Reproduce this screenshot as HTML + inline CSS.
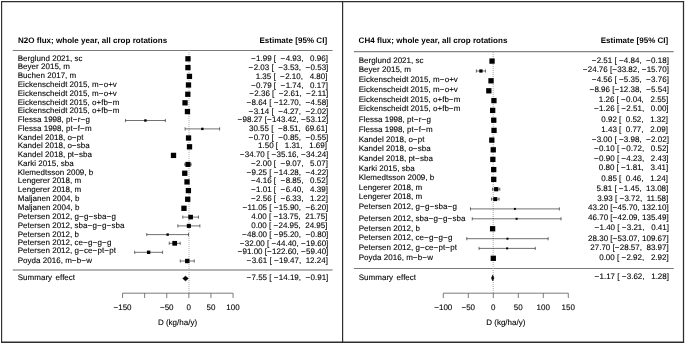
<!DOCTYPE html>
<html><head><meta charset="utf-8"><title>Forest plots</title>
<style>
html,body{margin:0;padding:0;background:#fff;}
svg{display:block;}
text{font-family:"Liberation Sans",Arial,Helvetica,sans-serif;font-size:8px;fill:#000;white-space:pre;text-rendering:geometricPrecision;stroke:#000;stroke-width:0.1px;}
.b{font-weight:bold;stroke:none;letter-spacing:0.03px;}
.l{letter-spacing:0.02px;}
.n{letter-spacing:0.3px;}
.n5{letter-spacing:0.4px;}
.e{text-anchor:end;}
.m{text-anchor:middle;}
.hr{stroke:#333;stroke-width:0.8;}
.ref{stroke-dasharray:1 1;}
.ci{stroke:#111;stroke-width:0.6;fill:none;}
.ax{stroke:#5a5a5a;stroke-width:0.8;fill:none;}
.bd{stroke:#2e2e2e;fill:none;}
</style></head><body>
<svg width="685" height="344" viewBox="0 0 685 344" xml:space="preserve">
<rect x="0" y="0" width="685" height="344" fill="#fff"/>
<path class="bd" stroke-width="1.15" d="M1.6 1V342.9"/>
<path class="bd" stroke-width="1.15" d="M1 1.58H684.1"/>
<path class="bd" stroke-width="1.25" d="M683.5 1V342.9"/>
<path class="bd" stroke-width="1.5" d="M1 342.25H684.1"/>
<path class="bd" stroke-width="1.2" d="M342.6 1.5V342"/>
<text class="b" x="17.9" y="42.9">N2O flux; whole year, all crop rotations</text>
<text class="b e" x="327.1" y="42.9">Estimate [95% CI]</text>
<line stroke="#7a7a7a" stroke-width="1" x1="12.75" x2="332.6" y1="50.5" y2="50.5"/>
<line stroke="#b4b4b4" stroke-width="2" x1="12.75" x2="332.6" y1="270.0" y2="270.0"/>
<line class="ref" stroke="#adadad" stroke-width="1.0" x1="189.0" x2="189.0" y1="50.0" y2="293.2"/>
<text class="l" x="17.75" y="60.5">Berglund 2021, sc</text>
<text class="e" x="327.90" y="60.75"> <tspan class="n5">−</tspan>1.99 [  <tspan class="n5">−</tspan>4.93,   0.96]</text>
<rect x="185.32" y="56.15" width="5.3" height="5.3"/>
<text class="l" x="17.75" y="69.4">Beyer 2015, m</text>
<text class="e" x="328.35" y="69.75"> <tspan class="n5">−</tspan>2.03 [  <tspan class="n5">−</tspan>3.53,  <tspan class="n5">−</tspan>0.53]</text>
<rect x="185.30" y="64.95" width="5.3" height="5.3"/>
<text class="l" x="17.75" y="78.4">Buchen 2017, m</text>
<text class="e" x="327.45" y="78.5">  1.35 [  <tspan class="n5">−</tspan>2.10,   4.80]</text>
<rect x="186.80" y="73.75" width="5.3" height="5.3"/>
<text class="l" x="17.75" y="87.1">Eickenscheidt 2015, m<tspan class="n">−</tspan>o+v</text>
<text class="e" x="327.90" y="87.6"> <tspan class="n5">−</tspan>0.79 [  <tspan class="n5">−</tspan>1.74,   0.17]</text>
<rect x="185.85" y="82.35" width="5.3" height="5.3"/>
<text class="l" x="17.75" y="95.6">Eickenscheidt 2015, m<tspan class="n">−</tspan>o+v</text>
<text class="e" x="328.35" y="95.6"> <tspan class="n5">−</tspan>2.36 [  <tspan class="n5">−</tspan>2.61,  <tspan class="n5">−</tspan>2.11]</text>
<rect x="185.16" y="91.60" width="5.3" height="5.3"/>
<text class="l" x="17.75" y="104.9">Eickenscheidt 2015, o+fb<tspan class="n">−</tspan>m</text>
<text class="e" x="328.35" y="104.9"> <tspan class="n5">−</tspan>8.64 [ <tspan class="n5">−</tspan>12.70,  <tspan class="n5">−</tspan>4.58]</text>
<rect x="182.38" y="100.15" width="5.3" height="5.3"/>
<text class="l" x="17.75" y="113.4">Eickenscheidt 2015, o+fb<tspan class="n">−</tspan>m</text>
<text class="e" x="328.35" y="113.6"> <tspan class="n5">−</tspan>3.14 [  <tspan class="n5">−</tspan>4.27,  <tspan class="n5">−</tspan>2.02]</text>
<rect x="184.81" y="108.95" width="5.3" height="5.3"/>
<text class="l" x="17.75" y="121.5">Flessa 1998, pt<tspan class="n">−</tspan>r<tspan class="n">−</tspan>g</text>
<text class="e" x="328.35" y="122.4"><tspan class="n5">−</tspan>98.27 [<tspan class="n5">−</tspan>143.42, <tspan class="n5">−</tspan>53.12]</text>
<path class="ci" d="M125.46 120.5H165.37M125.46 118.9v3.2M165.37 118.9v3.2"/>
<rect x="144.21" y="119.30" width="2.4" height="2.4"/>
<text class="l" x="17.75" y="130.65">Flessa 1998, pt<tspan class="n">−</tspan>f<tspan class="n">−</tspan>m</text>
<text class="e" x="327.45" y="131.1"> 30.55 [  <tspan class="n5">−</tspan>8.51,  69.61]</text>
<path class="ci" d="M185.09 128.9H219.62M185.09 127.30000000000001v3.2M219.62 127.30000000000001v3.2"/>
<rect x="201.15" y="127.70" width="2.4" height="2.4"/>
<text class="l" x="17.75" y="139.5">Kandel 2018, o<tspan class="n">−</tspan>pt</text>
<text class="e" x="328.35" y="139.5"> <tspan class="n5">−</tspan>0.70 [  <tspan class="n5">−</tspan>0.85,  <tspan class="n5">−</tspan>0.55]</text>
<rect x="185.89" y="135.35" width="5.3" height="5.3"/>
<text class="l" x="17.75" y="148.0">Kandel 2018, o<tspan class="n">−</tspan>sba</text>
<text class="e" x="327.00" y="148.0">  1.50 [   1.31,   1.69]</text>
<rect x="186.86" y="144.15" width="5.3" height="5.3"/>
<text class="l" x="17.75" y="156.75">Kandel 2018, pt<tspan class="n">−</tspan>sba</text>
<text class="e" x="328.35" y="156.75"><tspan class="n5">−</tspan>34.70 [ <tspan class="n5">−</tspan>35.16, <tspan class="n5">−</tspan>34.24]</text>
<rect x="170.86" y="152.75" width="5.3" height="5.3"/>
<text class="l" x="17.75" y="165.75">Karki 2015, sba</text>
<text class="e" x="327.90" y="165.75"> <tspan class="n5">−</tspan>2.00 [  <tspan class="n5">−</tspan>9.07,   5.07]</text>
<path class="ci" d="M184.84 164.4H191.09M184.84 162.8v3.2M191.09 162.8v3.2"/>
<rect x="185.42" y="161.85" width="5.1" height="5.1"/>
<text class="l" x="17.75" y="175.3">Klemedtsson 2009, b</text>
<text class="e" x="328.35" y="175.3"> <tspan class="n5">−</tspan>9.25 [ <tspan class="n5">−</tspan>14.28,  <tspan class="n5">−</tspan>4.22]</text>
<rect x="182.11" y="170.60" width="5.3" height="5.3"/>
<text class="l" x="17.75" y="183.1">Lengerer 2018, m</text>
<text class="e" x="327.90" y="183.1"> <tspan class="n5">−</tspan>4.16 [  <tspan class="n5">−</tspan>8.85,   0.52]</text>
<rect x="184.36" y="179.25" width="5.3" height="5.3"/>
<text class="l" x="17.75" y="192.25">Lengerer 2018, m</text>
<text class="e" x="327.90" y="192.25"> <tspan class="n5">−</tspan>1.01 [  <tspan class="n5">−</tspan>6.40,   4.39]</text>
<rect x="185.75" y="187.95" width="5.3" height="5.3"/>
<text class="l" x="17.75" y="201.2">Maljanen 2004, b</text>
<text class="e" x="327.90" y="201.2"> <tspan class="n5">−</tspan>2.56 [  <tspan class="n5">−</tspan>6.33,   1.22]</text>
<rect x="185.07" y="196.60" width="5.3" height="5.3"/>
<text class="l" x="17.75" y="209.7">Maljanen 2004, b</text>
<text class="e" x="328.35" y="210.0"><tspan class="n5">−</tspan>11.05 [ <tspan class="n5">−</tspan>15.90,  <tspan class="n5">−</tspan>6.20]</text>
<rect x="181.32" y="205.65" width="5.3" height="5.3"/>
<text class="l" x="17.75" y="218.5">Petersen 2012, g<tspan class="n">−</tspan>g<tspan class="n">−</tspan>sba<tspan class="n">−</tspan>g</text>
<text class="e" x="327.45" y="219.0">  4.00 [ <tspan class="n5">−</tspan>13.75,  21.75]</text>
<path class="ci" d="M182.77 217.1H198.46M182.77 215.5v3.2M198.46 215.5v3.2"/>
<rect x="188.32" y="214.80" width="4.6" height="4.6"/>
<text class="l" x="17.75" y="227.5">Petersen 2012, sba<tspan class="n">−</tspan>g<tspan class="n">−</tspan>g<tspan class="n">−</tspan>sba</text>
<text class="e" x="327.45" y="227.5">  0.00 [ <tspan class="n5">−</tspan>24.95,  24.95]</text>
<path class="ci" d="M177.82 225.9H199.88M177.82 224.3v3.2M199.88 224.3v3.2"/>
<rect x="186.80" y="223.85" width="4.1" height="4.1"/>
<text class="l" x="17.75" y="236.5">Petersen 2012, b</text>
<text class="e" x="328.35" y="236.5"><tspan class="n5">−</tspan>48.00 [ <tspan class="n5">−</tspan>95.20,  <tspan class="n5">−</tspan>0.80]</text>
<path class="ci" d="M146.77 234.6H188.50M146.77 233.0v3.2M188.50 233.0v3.2"/>
<rect x="166.43" y="233.40" width="2.4" height="2.4"/>
<text class="l" x="17.75" y="244.6">Petersen 2012, ce<tspan class="n">−</tspan>g<tspan class="n">−</tspan>g<tspan class="n">−</tspan>g</text>
<text class="e" x="328.35" y="245.6"><tspan class="n5">−</tspan>32.00 [ <tspan class="n5">−</tspan>44.40, <tspan class="n5">−</tspan>19.60]</text>
<path class="ci" d="M169.23 243.3H180.19M169.23 241.70000000000002v3.2M180.19 241.70000000000002v3.2"/>
<rect x="172.33" y="240.93" width="4.75" height="4.75"/>
<text class="l" x="17.75" y="252.9">Petersen 2012, g<tspan class="n">−</tspan>ce<tspan class="n">−</tspan>pt<tspan class="n">−</tspan>pt</text>
<text class="e" x="328.35" y="254.0"><tspan class="n5">−</tspan>91.00 [<tspan class="n5">−</tspan>122.60, <tspan class="n5">−</tspan>59.40]</text>
<path class="ci" d="M134.66 252.3H162.60M134.66 250.70000000000002v3.2M162.60 250.70000000000002v3.2"/>
<rect x="146.93" y="250.60" width="3.4" height="3.4"/>
<text class="l" x="17.75" y="263.0">Poyda 2016, m<tspan class="n">−</tspan>b<tspan class="n">−</tspan>w</text>
<text class="e" x="327.90" y="263.25"> <tspan class="n5">−</tspan>3.61 [ <tspan class="n5">−</tspan>19.47,  12.24]</text>
<path class="ci" d="M180.24 261.0H194.26M180.24 259.4v3.2M194.26 259.4v3.2"/>
<rect x="185.05" y="258.80" width="4.4" height="4.4"/>
<text class="l" x="17.75" y="279.75" word-spacing="1.2">Summary effect</text>
<text class="e" x="328.35" y="279.9"> <tspan class="n5">−</tspan>7.55 [ <tspan class="n5">−</tspan>14.19,  <tspan class="n5">−</tspan>0.91]</text>
<polygon stroke="#000" stroke-width="0.3" points="182.58,278.5 185.51,275.9 188.45,278.5 185.51,281.1"/>
<path class="ax" d="M122.55 293.2H233.05M122.55 293.2v4.8M144.65 293.2v4.8M166.75 293.2v4.8M188.85 293.2v4.8M210.95 293.2v4.8M233.05 293.2v4.8"/>
<text class="m" x="122.55" y="310.3">−150</text>
<text class="m" x="166.75" y="310.3">−50</text>
<text class="m" x="188.85" y="310.3">0</text>
<text class="m" x="210.95" y="310.3">50</text>
<text class="m" x="233.05" y="310.3">100</text>
<text class="m" x="177.5" y="325">D (kg/ha/y)</text>
<text class="b" x="358.6" y="42.9">CH4 flux; whole year, all crop rotations</text>
<text class="b e" x="668.3" y="42.9">Estimate [95% CI]</text>
<line stroke="#858585" stroke-width="1.1" x1="353.9" x2="673.7" y1="51.6" y2="51.6"/>
<line stroke="#7a7a7a" stroke-width="1" x1="353.9" x2="673.7" y1="268.5" y2="268.5"/>
<line class="ref" stroke="#a8a8a8" stroke-width="1.0" x1="493.2" x2="493.2" y1="52.0" y2="293.2"/>
<text class="l" x="358.75" y="62.6">Berglund 2021, sc</text>
<text class="e" x="668.90" y="62.9"> <tspan class="n">−</tspan>2.51 [ <tspan class="n">−</tspan>4.84,  <tspan class="n">−</tspan>0.18]</text>
<rect x="489.40" y="58.45" width="5.3" height="5.3"/>
<text class="l" x="358.75" y="72.4">Beyer 2015, m</text>
<text class="e" x="668.90" y="72.25"><tspan class="n">−</tspan>24.76 [<tspan class="n">−</tspan>33.82, <tspan class="n">−</tspan>15.70]</text>
<path class="ci" d="M476.39 71.0H485.45M476.39 69.4v3.2M485.45 69.4v3.2"/>
<rect x="479.30" y="69.38" width="3.25" height="3.25"/>
<text class="l" x="358.75" y="82.0">Eickenscheidt 2015, m<tspan class="n">−</tspan>o+v</text>
<text class="e" x="668.90" y="82.0"> <tspan class="n">−</tspan>4.56 [ <tspan class="n">−</tspan>5.35,  <tspan class="n">−</tspan>3.76]</text>
<rect x="488.37" y="78.15" width="5.3" height="5.3"/>
<text class="l" x="358.75" y="91.9">Eickenscheidt 2015, m<tspan class="n">−</tspan>o+v</text>
<text class="e" x="668.90" y="92.3"> <tspan class="n">−</tspan>8.96 [<tspan class="n">−</tspan>12.38,  <tspan class="n">−</tspan>5.54]</text>
<rect x="486.17" y="88.15" width="5.3" height="5.3"/>
<text class="l" x="358.75" y="101.6">Eickenscheidt 2015, o+fb<tspan class="n">−</tspan>m</text>
<text class="e" x="668.30" y="102.1">  1.26 [ <tspan class="n">−</tspan>0.04,   2.55]</text>
<rect x="491.28" y="97.95" width="5.3" height="5.3"/>
<text class="l" x="358.75" y="111.25">Eickenscheidt 2015, o+fb<tspan class="n">−</tspan>m</text>
<text class="e" x="668.60" y="111.2"> <tspan class="n">−</tspan>1.26 [ <tspan class="n">−</tspan>2.51,   0.00]</text>
<rect x="490.02" y="107.75" width="5.3" height="5.3"/>
<text class="l" x="358.75" y="121.9">Flessa 1998, pt<tspan class="n">−</tspan>r<tspan class="n">−</tspan>g</text>
<text class="e" x="668.00" y="122.0">  0.92 [  0.52,   1.32]</text>
<rect x="491.11" y="117.55" width="5.3" height="5.3"/>
<text class="l" x="358.75" y="131.9">Flessa 1998, pt<tspan class="n">−</tspan>f<tspan class="n">−</tspan>m</text>
<text class="e" x="668.00" y="131.5">  1.43 [  0.77,   2.09]</text>
<rect x="491.37" y="127.75" width="5.3" height="5.3"/>
<text class="l" x="358.75" y="141.5">Kandel 2018, o<tspan class="n">−</tspan>pt</text>
<text class="e" x="668.90" y="141.7"> <tspan class="n">−</tspan>3.00 [ <tspan class="n">−</tspan>3.98,  <tspan class="n">−</tspan>2.02]</text>
<rect x="489.15" y="137.45" width="5.3" height="5.3"/>
<text class="l" x="358.75" y="151.3">Kandel 2018, o<tspan class="n">−</tspan>sba</text>
<text class="e" x="668.60" y="150.5"> <tspan class="n">−</tspan>0.10 [ <tspan class="n">−</tspan>0.72,   0.52]</text>
<rect x="490.60" y="147.15" width="5.3" height="5.3"/>
<text class="l" x="358.75" y="160.7">Kandel 2018, pt<tspan class="n">−</tspan>sba</text>
<text class="e" x="668.60" y="161.0"> <tspan class="n">−</tspan>0.90 [ <tspan class="n">−</tspan>4.23,   2.43]</text>
<rect x="490.20" y="156.75" width="5.3" height="5.3"/>
<text class="l" x="358.75" y="170.5">Karki 2015, sba</text>
<text class="e" x="668.30" y="170.4">  0.80 [ <tspan class="n">−</tspan>1.81,   3.41]</text>
<rect x="491.05" y="166.95" width="5.3" height="5.3"/>
<text class="l" x="358.75" y="180.0">Klemedtsson 2009, b</text>
<text class="e" x="668.00" y="180.6">  0.85 [  0.46,   1.24]</text>
<rect x="491.08" y="176.75" width="5.3" height="5.3"/>
<text class="l" x="358.75" y="189.8">Lengerer 2018, m</text>
<text class="e" x="668.30" y="191.0">  5.81 [ <tspan class="n">−</tspan>1.45,  13.08]</text>
<path class="ci" d="M492.57 189.2H499.84M492.57 187.6v3.2M499.84 187.6v3.2"/>
<rect x="494.08" y="187.07" width="4.25" height="4.25"/>
<text class="l" x="358.75" y="198.7">Lengerer 2018, m</text>
<text class="e" x="668.30" y="201.25">  3.93 [ <tspan class="n">−</tspan>3.72,  11.58]</text>
<path class="ci" d="M491.44 199.1H499.09M491.44 197.5v3.2M499.09 197.5v3.2"/>
<rect x="493.26" y="197.10" width="4.0" height="4.0"/>
<text class="l" x="358.75" y="209.0">Petersen 2012, g<tspan class="n">−</tspan>g<tspan class="n">−</tspan>sba<tspan class="n">−</tspan>g</text>
<text class="e" x="668.70" y="210.0"> 43.20 [<tspan class="n">−</tspan>45.70, 132.10]</text>
<path class="ci" d="M470.45 208.9H559.35M470.45 207.3v3.2M559.35 207.3v3.2"/>
<rect x="513.90" y="207.90" width="2.0" height="2.0"/>
<text class="l" x="358.75" y="220.9">Petersen 2012, sba<tspan class="n">−</tspan>g<tspan class="n">−</tspan>g<tspan class="n">−</tspan>sba</text>
<text class="e" x="668.70" y="219.75"> 46.70 [<tspan class="n">−</tspan>42.09, 135.49]</text>
<path class="ci" d="M472.25 218.8H561.05M472.25 217.20000000000002v3.2M561.05 217.20000000000002v3.2"/>
<rect x="515.65" y="217.80" width="2.0" height="2.0"/>
<text class="l" x="358.75" y="230.8">Petersen 2012, b</text>
<text class="e" x="669.00" y="230.25"> <tspan class="n">−</tspan>1.40 [ <tspan class="n">−</tspan>3.21,   0.41]</text>
<rect x="489.95" y="226.10" width="5.3" height="5.3"/>
<text class="l" x="358.75" y="239.5">Petersen 2012, ce<tspan class="n">−</tspan>g<tspan class="n">−</tspan>g<tspan class="n">−</tspan>g</text>
<text class="e" x="668.70" y="240.6"> 28.30 [<tspan class="n">−</tspan>53.07, 109.67]</text>
<path class="ci" d="M466.76 238.7H548.13M466.76 237.1v3.2M548.13 237.1v3.2"/>
<rect x="506.45" y="237.70" width="2.0" height="2.0"/>
<text class="l" x="358.75" y="249.8">Petersen 2012, g<tspan class="n">−</tspan>ce<tspan class="n">−</tspan>pt<tspan class="n">−</tspan>pt</text>
<text class="e" x="668.70" y="249.5"> 27.70 [<tspan class="n">−</tspan>28.57,  83.97]</text>
<path class="ci" d="M479.01 248.4H535.28M479.01 246.8v3.2M535.28 246.8v3.2"/>
<rect x="506.15" y="247.40" width="2.0" height="2.0"/>
<text class="l" x="358.75" y="260.0">Poyda 2016, m<tspan class="n">−</tspan>b<tspan class="n">−</tspan>w</text>
<text class="e" x="668.70" y="260.1">  0.00 [ <tspan class="n">−</tspan>2.92,   2.92]</text>
<rect x="490.65" y="255.65" width="5.3" height="5.3"/>
<text class="l" x="358.75" y="280.1" word-spacing="1.2">Summary effect</text>
<text class="e" x="669.00" y="279.0"> <tspan class="n">−</tspan>1.17 [ <tspan class="n">−</tspan>3.62,   1.28]</text>
<polygon stroke="#000" stroke-width="0.6" points="491.49,278.0 492.72,275.15 493.94,278.0 492.72,280.85"/>
<path class="ax" d="M443.30 293.2H568.30M443.30 293.2v4.8M468.30 293.2v4.8M493.30 293.2v4.8M518.30 293.2v4.8M543.30 293.2v4.8M568.30 293.2v4.8"/>
<text class="m" x="443.30" y="310.3">−100</text>
<text class="m" x="468.30" y="310.3">−50</text>
<text class="m" x="493.30" y="310.3">0</text>
<text class="m" x="518.30" y="310.3">50</text>
<text class="m" x="543.30" y="310.3">100</text>
<text class="m" x="568.30" y="310.3">150</text>
<text class="m" x="505.8" y="325">D (kg/ha/y)</text>
</svg>
</body></html>
